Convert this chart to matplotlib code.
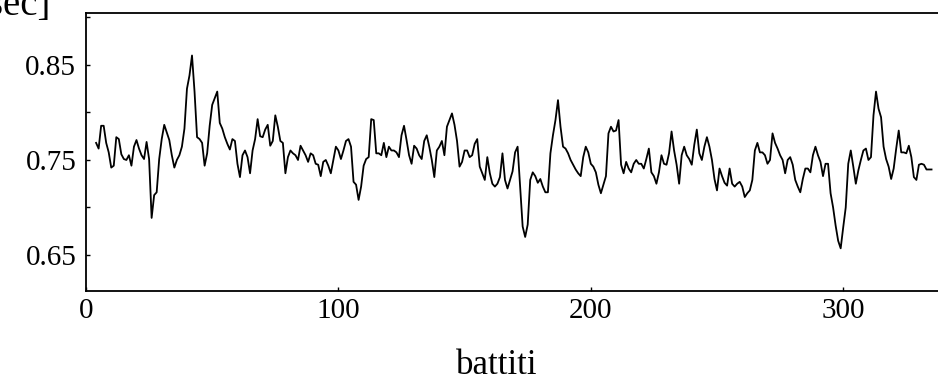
import matplotlib
matplotlib.use("Agg")
import matplotlib.pyplot as plt
from matplotlib.ticker import MultipleLocator

# RR intervals (sec), one per beat, starting at beat 4
start_beat = 4
rr = [
    0.768, 0.762, 0.786, 0.786, 0.768, 0.758, 0.742, 0.744, 0.774, 0.772,
    0.756, 0.751, 0.750, 0.755, 0.744, 0.764, 0.771, 0.762, 0.755, 0.751,
    0.769, 0.751, 0.689, 0.713, 0.716, 0.751, 0.772, 0.787, 0.779, 0.771,
    0.755, 0.742, 0.750, 0.755, 0.764, 0.783, 0.825, 0.839, 0.860, 0.822,
    0.774, 0.772, 0.768, 0.744, 0.757, 0.786, 0.808, 0.815, 0.822, 0.789,
    0.783, 0.774, 0.767, 0.761, 0.772, 0.770, 0.746, 0.732, 0.755, 0.760,
    0.753, 0.736, 0.760, 0.772, 0.793, 0.775, 0.774, 0.782, 0.787, 0.765,
    0.770, 0.797, 0.785, 0.770, 0.768, 0.736, 0.753, 0.760, 0.757, 0.755,
    0.750, 0.765, 0.760, 0.755, 0.748, 0.757, 0.755, 0.746, 0.745, 0.733,
    0.748, 0.750, 0.744, 0.736, 0.750, 0.764, 0.760, 0.751, 0.760, 0.770,
    0.772, 0.764, 0.727, 0.724, 0.708, 0.722, 0.744, 0.751, 0.753, 0.793,
    0.792, 0.757, 0.757, 0.755, 0.768, 0.753, 0.764, 0.760, 0.760, 0.758,
    0.753, 0.776, 0.786, 0.771, 0.755, 0.746, 0.765, 0.762, 0.755, 0.751,
    0.770, 0.776, 0.764, 0.750, 0.732, 0.760, 0.764, 0.770, 0.755, 0.785,
    0.792, 0.799, 0.787, 0.770, 0.743, 0.748, 0.760, 0.760, 0.753, 0.755,
    0.767, 0.772, 0.743, 0.736, 0.729, 0.753, 0.736, 0.725, 0.722, 0.725,
    0.732, 0.757, 0.729, 0.720, 0.729, 0.738, 0.758, 0.764, 0.722, 0.680,
    0.669, 0.682, 0.729, 0.737, 0.733, 0.726, 0.730, 0.722, 0.716, 0.716,
    0.757, 0.776, 0.792, 0.813, 0.785, 0.764, 0.762, 0.757, 0.750, 0.745,
    0.740, 0.736, 0.733, 0.753, 0.764, 0.758, 0.746, 0.743, 0.737, 0.724,
    0.715, 0.724, 0.733, 0.778, 0.785, 0.780, 0.781, 0.792, 0.745, 0.736,
    0.748, 0.741, 0.737, 0.746, 0.750, 0.746, 0.746, 0.741, 0.751, 0.762,
    0.737, 0.733, 0.725, 0.737, 0.755, 0.746, 0.745, 0.757, 0.780, 0.760,
    0.745, 0.725, 0.755, 0.764, 0.755, 0.751, 0.745, 0.766, 0.782, 0.757,
    0.750, 0.764, 0.774, 0.764, 0.750, 0.730, 0.718, 0.741, 0.733, 0.726,
    0.723, 0.741, 0.725, 0.722, 0.725, 0.727, 0.722, 0.711, 0.715, 0.718,
    0.729, 0.760, 0.768, 0.758, 0.758, 0.755, 0.746, 0.750, 0.778, 0.768,
    0.762, 0.755, 0.750, 0.736, 0.750, 0.753, 0.745, 0.729, 0.722, 0.716,
    0.730, 0.741, 0.741, 0.737, 0.755, 0.764, 0.755, 0.748, 0.733, 0.746,
    0.746, 0.715, 0.700, 0.681, 0.665, 0.657, 0.679, 0.700, 0.746, 0.760,
    0.743, 0.725, 0.739, 0.750, 0.760, 0.762, 0.750, 0.753, 0.797, 0.822,
    0.804, 0.795, 0.764, 0.751, 0.743, 0.730, 0.741, 0.762, 0.781, 0.758,
    0.758, 0.757, 0.765, 0.753, 0.732, 0.729, 0.745, 0.746, 0.745, 0.740,
    0.740, 0.740,
]
beats = list(range(start_beat, start_beat + len(rr)))

x_ticks = [0, 100, 200, 300]
y_ticks = [0.65, 0.75, 0.85]

plt.rcParams['font.family'] = 'Liberation Serif'

fig = plt.figure(figsize=(9.38, 3.82), dpi=100)
ax = fig.add_axes([86 / 938, 91 / 382, 860 / 938, 278 / 382])

ax.plot(beats, rr, color='black', lw=1.3)

ax.set_xlim(0, 860 / 2.524)
ax.set_ylim(0.6121, 0.9047)
ax.set_xticks(x_ticks)
ax.set_xticklabels([str(t) for t in x_ticks])
ax.set_yticks(y_ticks)
ax.set_yticklabels(['%.2f' % t for t in y_ticks])
ax.yaxis.set_minor_locator(MultipleLocator(0.05))

ax.tick_params(which='both', direction='in', length=3, width=1, labelsize=21,
               top=False, right=False)
ax.tick_params(axis='x', pad=5)
ax.tick_params(axis='y', pad=7)
for s in ax.spines.values():
    s.set_linewidth(1.3)

fig.text(497 / 938, 1 - 374 / 382, 'battiti', ha='center', va='baseline', fontsize=25)
fig.text(50 / 938, 1 - 14.5 / 382, '[sec]', ha='right', va='baseline', fontsize=28)

fig.savefig('out.png', dpi=100)
